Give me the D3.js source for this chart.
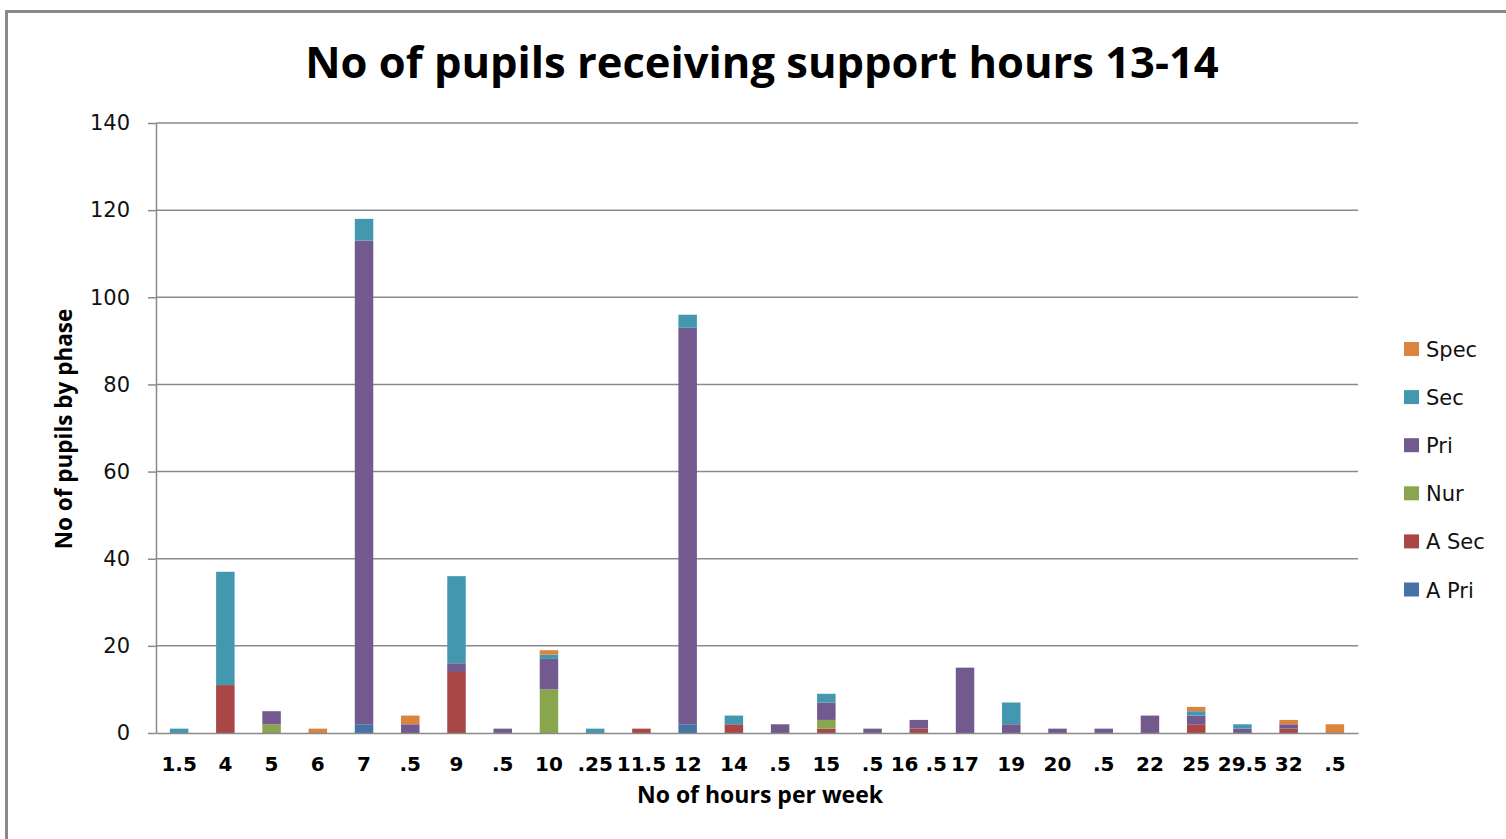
<!DOCTYPE html>
<html>
<head>
<meta charset="utf-8">
<script src="https://cdn.jsdelivr.net/npm/d3@7/dist/d3.min.js"></script>
<style>
  html, body { margin: 0; padding: 0; background: #fff; }
  svg { display: block; }
</style>
</head>
<body>
<svg id="chart" width="1506" height="839"></svg>
<script>
// Hours-per-week categories as labelled on the axis
const categories = ["1.5","4","5","6","7",".5","9",".5","10",".25","11.5","12","14",".5","15",".5","16 .5","17","19","20",".5","22","25","29.5","32",".5"];

// Pupils per phase for each category (stacked bottom to top)
const aPri = [0,0,0,0,2,0,0,0,0,0,0,2,0,0,0,0,0,0,0,0,0,0,0,0,0,0];
const aSec = [0,11,0,0,0,0,14,0,0,0,1,0,2,0,1,0,1,0,0,0,0,0,2,0,1,0];
const nur  = [0,0,2,0,0,0,0,0,10,0,0,0,0,0,2,0,0,0,0,0,0,0,0,0,0,0];
const pri  = [0,0,3,0,111,2,2,1,7,0,0,91,0,2,4,1,2,15,2,1,1,4,2,1,1,0];
const sec  = [1,26,0,0,5,0,20,0,1,1,0,3,2,0,2,0,0,0,5,0,0,0,1,1,0,0];
const spec = [0,0,0,1,0,2,0,0,1,0,0,0,0,0,0,0,0,0,0,0,0,0,1,0,1,2];

const seriesNames = ["A Pri","A Sec","Nur","Pri","Sec","Spec"];
const seriesValues = [aPri, aSec, nur, pri, sec, spec];
const seriesColors = ["#4572A7","#A84745","#89A54E","#725A8E","#4398B0","#DB843D"];

const yTicks = [0,20,40,60,80,100,120,140];

const svg = d3.select("#chart");
const W = 1506, H = 839;
const plot = { left: 156, right: 1358, top: 123, bottom: 733 };

// outer chart frame
svg.append("rect")
  .attr("x", 6.5).attr("y", 11.5)
  .attr("width", W + 20).attr("height", H + 20)
  .attr("fill", "#fff").attr("stroke", "#888").attr("stroke-width", 3);

// rows for stacking
const rows = categories.map((c, i) => {
  const r = { idx: i };
  seriesNames.forEach((s, k) => { r[s] = seriesValues[k][i]; });
  return r;
});
const stacked = d3.stack().keys(seriesNames)(rows);

const x = d3.scaleBand()
  .domain(d3.range(categories.length))
  .range([plot.left, plot.right])
  .paddingInner(0.6)
  .paddingOuter(0.3);

const y = d3.scaleLinear().domain([0, 140]).range([plot.bottom, plot.top]);

// horizontal gridlines
svg.append("g")
  .selectAll("line")
  .data(yTicks.filter(d => d > 0))
  .join("line")
  .attr("x1", plot.left).attr("x2", plot.right)
  .attr("y1", d => y(d)).attr("y2", d => y(d))
  .attr("stroke", "#8a8a8a").attr("stroke-width", 1.5);

// stacked bars
svg.append("g")
  .selectAll("g")
  .data(stacked)
  .join("g")
  .attr("fill", (d, k) => seriesColors[k])
  .selectAll("rect")
  .data(d => d.filter(p => p[1] > p[0]))
  .join("rect")
  .attr("x", p => x(p.data.idx))
  .attr("width", x.bandwidth())
  .attr("y", p => y(p[1]))
  .attr("height", p => y(p[0]) - y(p[1]));

// y axis
const yAxis = svg.append("g")
  .attr("transform", `translate(${plot.left},0)`)
  .call(d3.axisLeft(y).tickValues(yTicks).tickSize(8).tickPadding(18).tickSizeOuter(0));
yAxis.select(".domain").attr("stroke", "#8a8a8a").attr("stroke-width", 1.5);
yAxis.selectAll(".tick line").attr("stroke", "#8a8a8a").attr("stroke-width", 1.5);
yAxis.selectAll(".tick text")
  .attr("font-family", "'DejaVu Sans', sans-serif")
  .attr("font-size", 21).attr("fill", "#111");

// x axis
const xAxis = svg.append("g")
  .attr("transform", `translate(0,${plot.bottom})`)
  .call(d3.axisBottom(x).tickFormat(i => categories[i]).tickSize(0).tickPadding(24));
xAxis.select(".domain").attr("stroke", "#8a8a8a").attr("stroke-width", 1.5);
xAxis.selectAll(".tick text")
  .attr("font-family", "'DejaVu Sans', sans-serif")
  .attr("font-weight", 700)
  .attr("font-size", 20).attr("fill", "#000");

// titles
svg.append("text")
  .attr("x", 762).attr("y", 78)
  .attr("text-anchor", "middle")
  .attr("font-family", "'Open Sans', sans-serif")
  .attr("font-weight", 700).attr("font-size", 43.5)
  .attr("fill", "#000")
  .text("No of pupils receiving support hours 13-14");

svg.append("text")
  .attr("x", 760).attr("y", 803)
  .attr("text-anchor", "middle")
  .attr("font-family", "'Open Sans', sans-serif")
  .attr("font-weight", 700).attr("font-size", 23)
  .attr("fill", "#000")
  .text("No of hours per week");

svg.append("text")
  .attr("transform", "translate(72,429) rotate(-90)")
  .attr("text-anchor", "middle")
  .attr("font-family", "'Open Sans', sans-serif")
  .attr("font-weight", 700).attr("font-size", 22.5)
  .attr("fill", "#000")
  .text("No of pupils by phase");

// legend (top entry is the last stacked series)
const legend = svg.append("g");
const legendItems = seriesNames.map((n, k) => ({ name: n, color: seriesColors[k] })).reverse();
const lg = legend.selectAll("g")
  .data(legendItems)
  .join("g")
  .attr("transform", (d, i) => `translate(1404,${349 + i * 48.1})`);
lg.append("rect")
  .attr("x", 0).attr("y", -7)
  .attr("width", 15).attr("height", 14)
  .attr("fill", d => d.color);
lg.append("text")
  .attr("x", 22).attr("y", 8)
  .attr("font-family", "'DejaVu Sans', sans-serif")
  .attr("font-size", 21).attr("fill", "#111")
  .text(d => d.name);
</script>
</body>
</html>
